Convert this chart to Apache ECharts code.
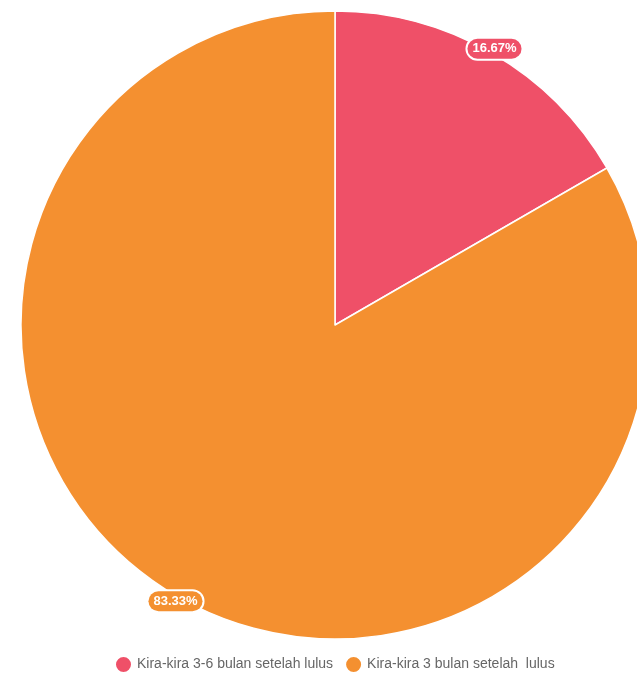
<!DOCTYPE html>
<html><head><meta charset="utf-8">
<script src="https://cdn.jsdelivr.net/npm/echarts@6/dist/echarts.min.js"></script>
<style>html,body{margin:0;padding:0;background:#fff}#c{width:637px;height:675px}</style>
</head><body><div id="c"></div>
<script>
const categories = ['Kira-kira 3-6 bulan setelah lulus', 'Kira-kira 3 bulan setelah  lulus'];
const values = [1, 5];
const colors = ['#ef5068', '#f49030'];

const chart = echarts.init(document.getElementById('c'));
const data = categories.map((n, i) => ({ name: n, value: values[i] }));
const labelData = categories.map((n, i) => ({
  name: n, value: values[i],
  label: { backgroundColor: colors[i] }
}));
chart.setOption({
  animation: false,
  color: colors,
  legend: {
    top: 650,
    left: 109,
    icon: 'circle',
    itemWidth: 17,
    itemHeight: 17,
    itemGap: 11,
    textStyle: { color: '#666', fontSize: 14, fontFamily: 'Liberation Sans, Arial, sans-serif' },
    data: categories
  },
  series: [
    {
      type: 'pie',
      z: 1,
      center: [335, 325],
      radius: [0, 314],
      startAngle: 90,
      data: data,
      itemStyle: { borderColor: '#fff', borderWidth: 1.5 },
      label: { show: false },
      labelLine: { show: false }
    },
    {
      type: 'pie',
      z: 5,
      zlevel: 1,
      center: [335, 325],
      radius: [0, 632],
      startAngle: 90,
      silent: true,
      legendHoverLink: false,
      data: labelData,
      itemStyle: { color: 'rgba(0,0,0,0)', borderWidth: 0 },
      label: {
        show: true,
        position: 'inside',
        formatter: '{d}%',
        color: '#fff',
        fontWeight: 'bold',
        fontSize: 13,
        fontFamily: 'Liberation Sans, Arial, sans-serif',
        borderColor: '#fff',
        borderWidth: 2,
        borderRadius: 12,
        padding: [4, 5, 3, 5]
      },
      labelLine: { show: false }
    }
  ]
});
</script></body></html>
